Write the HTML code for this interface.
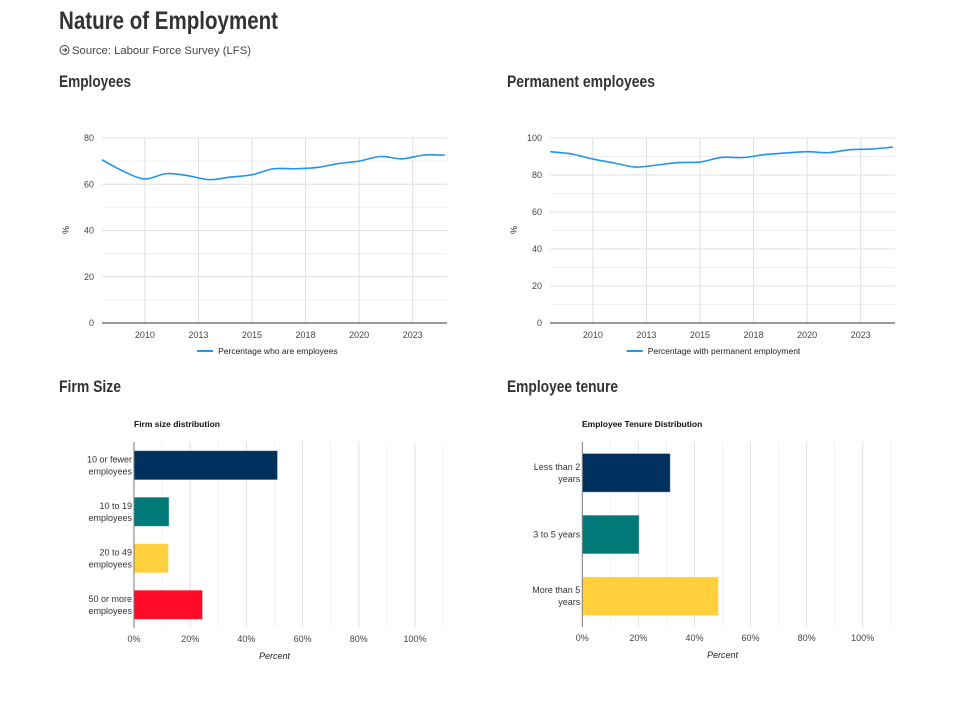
<!DOCTYPE html>
<html><head><meta charset="utf-8"><style>
body{margin:0;background:#fff;width:963px;height:711px;overflow:hidden;font-family:"Liberation Sans",sans-serif}
svg text{font-family:"Liberation Sans",sans-serif}
.h{font-weight:bold;fill:#333}
</style></head><body>
<svg id="s" width="963" height="711" xmlns="http://www.w3.org/2000/svg">
<text class="h" x="59" y="29" font-size="25" textLength="219" lengthAdjust="spacingAndGlyphs">Nature of Employment</text>
<g>
<circle cx="64.5" cy="50" r="4.5" fill="none" stroke="#444" stroke-width="1"/>
<path d="M62,50 H66.5 M64.8,48 L66.8,50 L64.8,52" stroke="#444" fill="none" stroke-width="1"/>
<text x="72" y="54" font-size="11" fill="#444" textLength="179" lengthAdjust="spacingAndGlyphs">Source: Labour Force Survey (LFS)</text></g>
<text class="h" x="59" y="87" font-size="17" textLength="72" lengthAdjust="spacingAndGlyphs">Employees</text>
<text class="h" x="507" y="87" font-size="17" textLength="148" lengthAdjust="spacingAndGlyphs">Permanent employees</text>
<text class="h" x="59" y="392" font-size="17" textLength="62" lengthAdjust="spacingAndGlyphs">Firm Size</text>
<text class="h" x="507" y="392" font-size="17" textLength="111" lengthAdjust="spacingAndGlyphs">Employee tenure</text>
<g id="c1"></g><g id="c2"></g><g id="c3"></g><g id="c4"></g>
</svg>
<script>
const years=[2008,2009,2010,2011,2012,2013,2014,2015,2016,2017,2018,2019,2020,2021,2022,2023,2024];
const employeesPct=[70.6,65.6,62.3,64.6,63.7,62.0,63.1,64.1,66.7,66.7,67.2,68.9,70.0,72.0,71.0,72.6,72.6];
const permanentPct=[92.6,91.4,88.6,86.5,84.3,85.4,86.7,87.0,89.5,89.4,91.0,91.9,92.6,92.1,93.7,94.0,95.1];
const xTicks=[2010,2012.5,2015,2017.5,2020,2022.5];
const xTickLabels=["2010","2013","2015","2018","2020","2023"];
const yTicks1=[0,20,40,60,80];
const yTicks2=[0,20,40,60,80,100];
const firmCats=[["10 or fewer","employees"],["10 to 19","employees"],["20 to 49","employees"],["50 or more","employees"]];
const firmVals=[51.1,12.5,12.3,24.4];
const tenureCats=[["Less than 2","years"],["3 to 5 years"],["More than 5","years"]];
const tenureVals=[31.4,20.3,48.6];
const pctTicks=[0,20,40,60,80,100];
const barColors=["#00305e","#007a78","#ffd03b","#ff0b28"];
const NS="http://www.w3.org/2000/svg";
function el(p,t,a,txt){const e=document.createElementNS(NS,t);for(const k in a)e.setAttribute(k,a[k]);if(txt!==undefined)e.textContent=txt;p.appendChild(e);return e;}
function smooth(pts){let d="M"+pts[0][0]+","+pts[0][1];for(let i=0;i<pts.length-1;i++){const p0=pts[i-1]||pts[i],p1=pts[i],p2=pts[i+1],p3=pts[i+2]||p2;
const c1=[p1[0]+(p2[0]-p0[0])/6,p1[1]+(p2[1]-p0[1])/6],c2=[p2[0]-(p3[0]-p1[0])/6,p2[1]-(p3[1]-p1[1])/6];
d+=" C"+c1[0]+","+c1[1]+" "+c2[0]+","+c2[1]+" "+p2[0]+","+p2[1];}return d;}
function line(g,x0,x1,ymax,yT,vals,legend,name){
 const y0=323,yTop=138;
 const X=v=>x0+(v-2008)/(2024.1-2008)*(x1-x0), Y=v=>y0-v/ymax*(y0-yTop);
 const step=yT[1]-yT[0];
 for(let v=0;v<=ymax;v+=step/2){const l=el(g,"line",{x1:x0,x2:x1,y1:Y(v),y2:Y(v),stroke:v%step?"#f0f0f0":"#e0e0e0"});
 
 }
 xTicks.forEach((t,i)=>{const l=el(g,"line",{x1:X(t),x2:X(t),y1:yTop,y2:y0,stroke:"#e0e0e0"});
 
 
 const tx=el(g,"text",{x:X(t),y:y0+15,"font-size":9,fill:"#444","text-anchor":"middle"},xTickLabels[i]);
 
 });
 yT.forEach(t=>{const tx=el(g,"text",{x:x0-8,y:Y(t)+3,"font-size":9,fill:"#444","text-anchor":"end"},t);
 
 });
 el(g,"line",{x1:x0,x2:x1,y1:y0,y2:y0,stroke:"#333"});
 const yt=el(g,"text",{x:0,y:0,"font-size":9,fill:"#222","text-anchor":"middle",transform:`translate(${x0-33},230) rotate(-90)`},"%");
 
 
 const p=el(g,"path",{d:smooth(years.map((y,i)=>[X(y),Y(vals[i])])),fill:"none",stroke:"#2196e6","stroke-width":1.6});
 
 
 const cx=(x0+x1)/2, w=legend.length*4.6+26;
 const lg=el(g,"g",{});
 
 
 el(lg,"line",{x1:cx-w/2,x2:cx-w/2+16,y1:351,y2:351,stroke:"#2196e6","stroke-width":2});
 el(lg,"text",{x:cx-w/2+21,y:354,"font-size":8.5,fill:"#222"},legend);
}
line(document.getElementById("c1"),102,447,80,yTicks1,employeesPct,"Percentage who are employees","employees");
line(document.getElementById("c2"),550,895,100,yTicks2,permanentPct,"Percentage with permanent employment","permanent");
function bars(g,x0,xw,top,bot,cats,vals,title,tx){
 const X=v=>x0+v/100*xw;
 const tt=el(g,"text",{x:tx,y:427,"font-size":8.5,"font-weight":"bold",fill:"#111"},title);
 
 
 for(let v=10;v<=110;v+=10){if(X(v)>x0+xw*1.1)break;const l=el(g,"line",{x1:X(v),x2:X(v),y1:top,y2:bot,stroke:v%20?"#f2f2f2":"#e0e0e0"});
 
 }
 pctTicks.forEach(t=>{const e=el(g,"text",{x:X(t),y:bot+14,"font-size":9,fill:"#444","text-anchor":"middle"},t+"%");
 
 });
 const at=el(g,"text",{x:X(50),y:bot+31,"font-size":9,fill:"#222","font-style":"italic","text-anchor":"middle"},"Percent");
 
 
 const band=(bot-top)/vals.length, bh=band*0.63;
 vals.forEach((v,i)=>{const cy=top+band*(i+0.5);
 const r=el(g,"rect",{x:x0,y:cy-bh/2,width:X(v)-x0,height:bh,fill:barColors[i],stroke:"rgba(255,255,255,0.5)"});
 
 
 const c=cats[i];c.forEach((s,j)=>{const t=el(g,"text",{x:x0-2,y:cy+3+(j-(c.length-1)/2)*12,"font-size":9,fill:"#333","text-anchor":"end"},s);
 
 });});
 el(g,"line",{x1:x0,x2:x0,y1:top,y2:bot,stroke:"#777"});
}
bars(document.getElementById("c3"),134,281,442,628,firmCats,firmVals,"Firm size distribution",134);
bars(document.getElementById("c4"),582.3,280.4,442,627,tenureCats,tenureVals,"Employee Tenure Distribution",582);
</script>
</body></html>
